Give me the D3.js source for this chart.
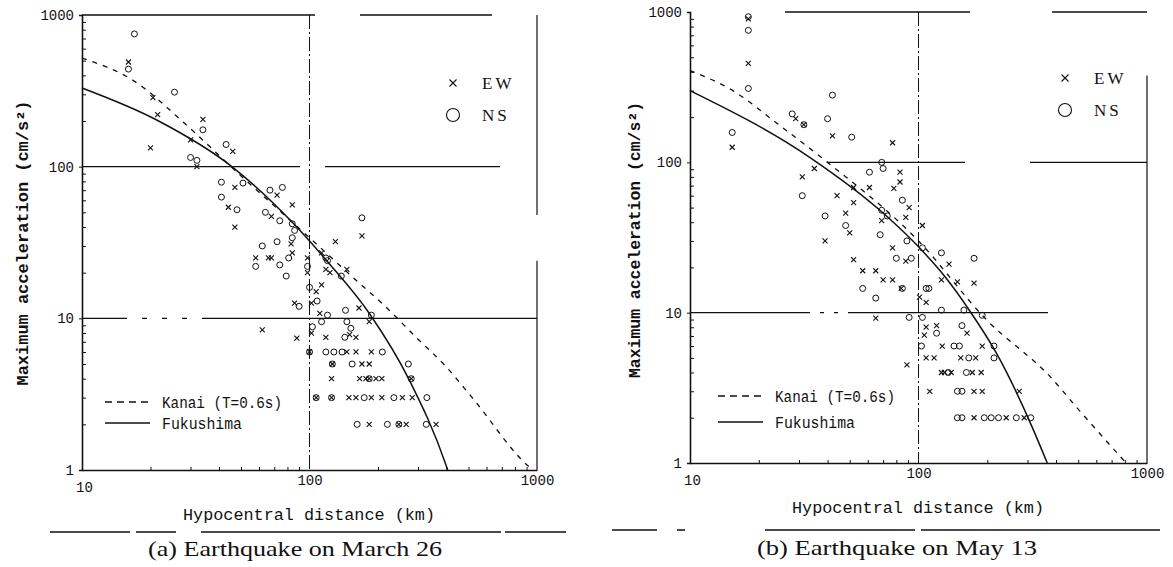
<!DOCTYPE html>
<html lang="en">
<head>
<meta charset="UTF-8">
<title>Maximum acceleration vs hypocentral distance</title>
<script src="https://d3js.org/d3.v7.min.js"></script>
<style>
  body { margin: 0; background: #fff; }
  text { fill: #111; }
</style>
</head>
<body>
<div id="chart-area"></div>
<script>

// ---- data: [hypocentral distance km, max acceleration cm/s2]
const marchEW = [
  [16,490],[20.5,285],[21.5,220],[34,205],[20,133],[30,150],[46,126],[32,100],[47,73],[44,54],
  [47,40],[72,65],[84,56],[68,47],[83,31],[58,25],[68,25],[98,25],[113,27],[123,20],[113,16.6],
  [170,35],[130,32],[146,21],[84,27],[66,25],[98,20],[118,21],[107,15],[86,12.6],[102,12.6],
  [111,10.8],[165,11.7],[183,9.5],[150,7.8],[160,7.5],[88,7.4],[102,8],[118,7.5],[62,8.4],
  [100,6],[146,6],[160,6],[187,6],
  [126,5],[170,5],[183,5],
  [125,4],[166,4],[177,4],[183,4],[196,4],[208,4],[280,4],
  [107,3],[125,3],[149,3],[160,3],[187,3],[208,3],[256,3],[283,3],
  [183,2],[247,2],[266,2],[360,2]
];
const marchNS = [
  [17,750],[16,440],[25.5,310],[34,175],[43,140],[30,115],[32,110],[41,79],[51,78],[41,63],
  [48,52],[67,70],[76,73],[64,50],[74,44],[84,42],[62,30],[72,32],[74,22.5],[81,25],[58,22],
  [86,38],[98,22],[120,24],[170,46],[138,19],[84,34],[79,19],[118,25],[100,16],[108,13],
  [90,12],[113,9.5],[120,10.5],[144,11.3],[187,10.5],[146,9.5],[152,8.6],[143,7.5],[103,8.8],
  [100,6],[118,6],[128,6],[139,6],[209,6],
  [126,5],[154,5],[272,5],
  [183,4],[280,4],
  [107,3],[125,3],[174,3],[235,3],[328,3],
  [162,2],[220,2],[247,2],[326,2]
];
const marchKanai = [[10,520],[16.7,372],[28.8,188],[45.5,99],[100,34],[166,17],[209,12.5],[294,7.5],[398,4.8],[519,3.0],[923,1.05],[960,1]];
const marchFukushima = [[10,330],[21.3,203],[46,99],[84,43],[119,24],[183,10.8],[275,3.9],[398,1.08],[405,1]];

const mayEW = [
  [18,900],[18,455],[29,195],[31.5,178],[42,150],[15.3,126],[77,135],[35,91],[31,80],[83,74],
  [61,68],[78,67],[52,68],[44,60],[52,54],[48,46],[50,34],[39,30],[91,50],[88,43],[69,41],
  [77,27],[88,22],[104,38],[52,22.5],[57,19],[65,19],[70,16.5],[84,14.5],[83,86],[136,21],
  [77,16.5],[126,16.5],[148,16],[175,15.7],[65,9.2],[108,11.7],[101,12.7],[108,8],[120,8.2],
  [163,7.3],[106,7.1],[89,4.5],
  [127,6],[190,6],
  [108,5],[117,5],[153,5],[178,5],
  [126,4],[130,4],[139,4],[172,4],[188,4],
  [112,3],[175,3],[190,3],[276,3],
  [175,2],[242,2],[290,2]
];
const mayNS = [
  [18,930],[18,755],[18,310],[42,280],[28,210],[31.5,178],[40,195],[51,147],[15.3,158],[31,60],
  [61,86],[69,100],[70,91],[39,44],[48,38],[68,33],[85,56],[69,48],[73,44],[89,30],[80,23],
  [93,23],[104,27],[57,14.5],[111,14.5],[126,25],[175,23],[85,14.5],[108,14.5],[65,12.5],
  [91,9.3],[104,9.3],[126,10.4],[158,10.4],[190,9.6],[155,8.2],[120,7.3],
  [103,6],[143,6],[151,6],[214,6],
  [166,5],[214,5],
  [135,4],[162,4],
  [148,3],[155,3],
  [148,2],[155,2],[194,2],[208,2],[224,2],[268,2],[310,2]
];
const mayKanai = [[10,408],[15.4,300],[24,182],[39,103],[100,30],[198,9.0],[380,3.7],[504,2.25],[810,1]];
const mayFukushima = [[10,300],[33.4,108],[70,46],[101,27],[132,17],[166,10.5],[219,5.4],[314,1.74],[366,1]];

const yTicks = [1, 10, 100, 1000];
const xTicks = [10, 100, 1000];
const captions = ['(a) Earthquake on March 26', '(b) Earthquake on May 13'];

// ---- layout (the broken-line patterns copy the worn scan of the printed grid)
const W = 1173, H = 567;
const panels = [
  { left: 82, right: 537, top: 15, bottom: 470, ew: marchEW, ns: marchNS,
    kanai: marchKanai, fuku: marchFukushima, caption: captions[0],
    gridDash: { 1000: '233,45,132,60', 100: '218,25,175,60', 10: '45,15,5,15,5,15,5,15,400' },
    borderSegs: [[1000, 48], [24, 1]],
    yTitleX: 22, yTitleY: 243, yTitleLen: 285, xTitleX: 309, xTitleY: 520,
    legX: 453, legY: 83, legY2: 115, lineLegX: 105, lineLegY: 402, lineLegY2: 423,
    capX: 295, capY: 556, capLen: 294, ruleX0: 50, ruleX1: 566, ruleY: 532,
    ruleDash: '80,6,40,25,300,4' },
  { left: 690, right: 1147, top: 12, bottom: 463, ew: mayEW, ns: mayNS,
    kanai: mayKanai, fuku: mayFukushima, caption: captions[1],
    gridDash: { 1000: '0,95,185,82,100', 100: '0,137,138,65,120', 10: '120,10,4,10,4,10,200,200' },
    borderSegs: [[378, 1]],
    yTitleX: 634, yTitleY: 240, yTitleLen: 276, xTitleX: 918, xTitleY: 513,
    legX: 1065, legY: 78, legY2: 110, lineLegX: 718, lineLegY: 396, lineLegY2: 422,
    capX: 897, capY: 555, capLen: 280, ruleX0: 612, ruleX1: 1160, ruleY: 530,
    ruleDash: '45,20,8,80,150,6,250' }
];

const svg = d3.select('#chart-area')
  .append('svg')
  .attr('width', W)
  .attr('height', H)
  .style('display', 'block');

svg.append('rect').attr('width', W).attr('height', H).attr('fill', '#fff');

const ink = '#111';
const monoFont = '"Liberation Mono", "DejaVu Sans Mono", monospace';
const serifFont = '"Liberation Serif", "DejaVu Serif", serif';

// minor tick values for log axes
function minors(lo, hi) {
  const out = [];
  for (let d = lo; d < hi; d *= 10) {
    for (let k = 2; k <= 9; k++) out.push(d * k);
  }
  return out;
}

panels.forEach(p => {
  const x = d3.scaleLog().domain([10, 1000]).range([p.left, p.right]);
  const y = d3.scaleLog().domain([1, 1000]).range([p.bottom, p.top]);

  const g = svg.append('g');

  // grid lines at decades
  g.selectAll('.hgrid')
    .data([10, 100, 1000])
    .enter().append('line')
    .attr('x1', p.left).attr('x2', p.right)
    .attr('y1', d => y(d)).attr('y2', d => y(d))
    .attr('stroke', ink)
    .attr('stroke-width', d => d === 1000 ? 1.6 : 1.4)
    .attr('stroke-dasharray', d => p.gridDash[d]);

  g.append('line')
    .attr('x1', x(100)).attr('x2', x(100))
    .attr('y1', p.top).attr('y2', p.bottom)
    .attr('stroke', ink).attr('stroke-width', 1)
    .attr('stroke-dasharray', '14,3,2,3');

  // right frame edge, only where it survived in print
  g.selectAll('.border')
    .data(p.borderSegs)
    .enter().append('line')
    .attr('x1', p.right).attr('x2', p.right)
    .attr('y1', d => y(d[0])).attr('y2', d => y(d[1]))
    .attr('stroke', ink).attr('stroke-width', 1.2);

  // y axis
  const yAxis = g.append('g')
    .attr('transform', `translate(${p.left},0)`)
    .call(d3.axisLeft(y).tickValues(yTicks).tickFormat(d3.format('d')).tickSize(3).tickPadding(5));
  g.append('g')
    .attr('transform', `translate(${p.left},0)`)
    .call(d3.axisLeft(y).tickValues(minors(1, 1000)).tickFormat('').tickSize(-4))
    .call(a => a.select('.domain').remove());

  // x axis
  const xAxis = g.append('g')
    .attr('transform', `translate(0,${p.bottom})`)
    .call(d3.axisBottom(x).tickValues(xTicks).tickFormat(d3.format('d')).tickSize(0).tickPadding(5));
  g.append('g')
    .attr('transform', `translate(0,${p.bottom})`)
    .call(d3.axisBottom(x).tickValues(minors(10, 1000)).tickFormat('').tickSize(-3))
    .call(a => a.select('.domain').remove());

  [yAxis, xAxis].forEach(a => {
    a.select('.domain').attr('stroke', ink).attr('stroke-width', 1.6);
    a.selectAll('text')
      .attr('font-family', monoFont)
      .attr('font-size', '14px')
      .attr('fill', ink);
  });
  g.selectAll('.tick line').attr('stroke', ink);
  // the "10" under the x axis sits a little lower, as in the original
  xAxis.selectAll('.tick text').filter(d => d === 10).attr('y', 12).attr('x', 2);

  // curves
  const line = d3.line()
    .x(d => x(d[0]))
    .y(d => y(d[1]))
    .curve(d3.curveMonotoneX);

  g.append('path')
    .datum(p.kanai)
    .attr('d', line)
    .attr('fill', 'none')
    .attr('stroke', ink)
    .attr('stroke-width', 1.3)
    .attr('stroke-dasharray', '5,6');

  g.append('path')
    .datum(p.fuku)
    .attr('d', line)
    .attr('fill', 'none')
    .attr('stroke', ink)
    .attr('stroke-width', 1.5);

  // scatter: EW crosses, NS circles
  g.selectAll('.ew')
    .data(p.ew)
    .enter().append('path')
    .attr('class', 'ew')
    .attr('transform', d => `translate(${x(d[0])},${y(d[1])})`)
    .attr('d', 'M-2.5,-2.5L2.5,2.5M-2.5,2.5L2.5,-2.5')
    .attr('stroke', ink)
    .attr('stroke-width', 1.1)
    .attr('fill', 'none');

  g.selectAll('.ns')
    .data(p.ns)
    .enter().append('circle')
    .attr('class', 'ns')
    .attr('cx', d => x(d[0]))
    .attr('cy', d => y(d[1]))
    .attr('r', 3)
    .attr('stroke', ink)
    .attr('stroke-width', 1)
    .attr('fill', 'none');

  // symbol legend
  g.append('path')
    .attr('transform', `translate(${p.legX},${p.legY})`)
    .attr('d', 'M-3.5,-3.5L3.5,3.5M-3.5,3.5L3.5,-3.5')
    .attr('stroke', ink).attr('stroke-width', 1.1);
  g.append('circle')
    .attr('cx', p.legX).attr('cy', p.legY2).attr('r', 6.5)
    .attr('fill', 'none').attr('stroke', ink).attr('stroke-width', 1.1);
  [['EW', p.legY], ['NS', p.legY2]].forEach(([t, yy]) => {
    g.append('text')
      .attr('x', p.legX + 29).attr('y', yy + 6)
      .attr('font-family', serifFont)
      .attr('font-size', '17px')
      .attr('letter-spacing', '3px')
      .text(t);
  });

  // line legend
  g.append('line')
    .attr('x1', p.lineLegX).attr('x2', p.lineLegX + 43)
    .attr('y1', p.lineLegY).attr('y2', p.lineLegY)
    .attr('stroke', ink).attr('stroke-width', 1.3).attr('stroke-dasharray', '7,5');
  g.append('line')
    .attr('x1', p.lineLegX).attr('x2', p.lineLegX + 45)
    .attr('y1', p.lineLegY2).attr('y2', p.lineLegY2)
    .attr('stroke', ink).attr('stroke-width', 1.5);
  g.append('text')
    .attr('x', p.lineLegX + 57).attr('y', p.lineLegY + 6)
    .attr('font-family', monoFont).attr('font-size', '16px')
    .attr('textLength', 120).attr('lengthAdjust', 'spacingAndGlyphs')
    .text('Kanai (T=0.6s)');
  g.append('text')
    .attr('x', p.lineLegX + 57).attr('y', p.lineLegY2 + 6)
    .attr('font-family', monoFont).attr('font-size', '16px')
    .attr('textLength', 80).attr('lengthAdjust', 'spacingAndGlyphs')
    .text('Fukushima');

  // axis titles
  g.append('text')
    .attr('transform', `translate(${p.yTitleX},${p.yTitleY}) rotate(-90)`)
    .attr('text-anchor', 'middle')
    .attr('dy', '0.35em')
    .attr('font-family', monoFont).attr('font-size', '16px').attr('font-weight', 'bold')
    .attr('textLength', p.yTitleLen).attr('lengthAdjust', 'spacingAndGlyphs')
    .text('Maximum acceleration (cm/s²)');

  g.append('text')
    .attr('x', p.xTitleX).attr('y', p.xTitleY)
    .attr('text-anchor', 'middle')
    .attr('font-family', monoFont).attr('font-size', '16px')
    .attr('textLength', 252).attr('lengthAdjust', 'spacingAndGlyphs')
    .text('Hypocentral distance (km)');

  // caption rule and caption
  g.append('line')
    .attr('x1', p.ruleX0).attr('x2', p.ruleX1)
    .attr('y1', p.ruleY).attr('y2', p.ruleY)
    .attr('stroke', ink).attr('stroke-width', 1.3)
    .attr('stroke-dasharray', p.ruleDash);

  g.append('text')
    .attr('x', p.capX).attr('y', p.capY)
    .attr('text-anchor', 'middle')
    .attr('font-family', serifFont).attr('font-size', '21px')
    .attr('textLength', p.capLen).attr('lengthAdjust', 'spacingAndGlyphs')
    .text(p.caption);
});
</script>
</body>
</html>
